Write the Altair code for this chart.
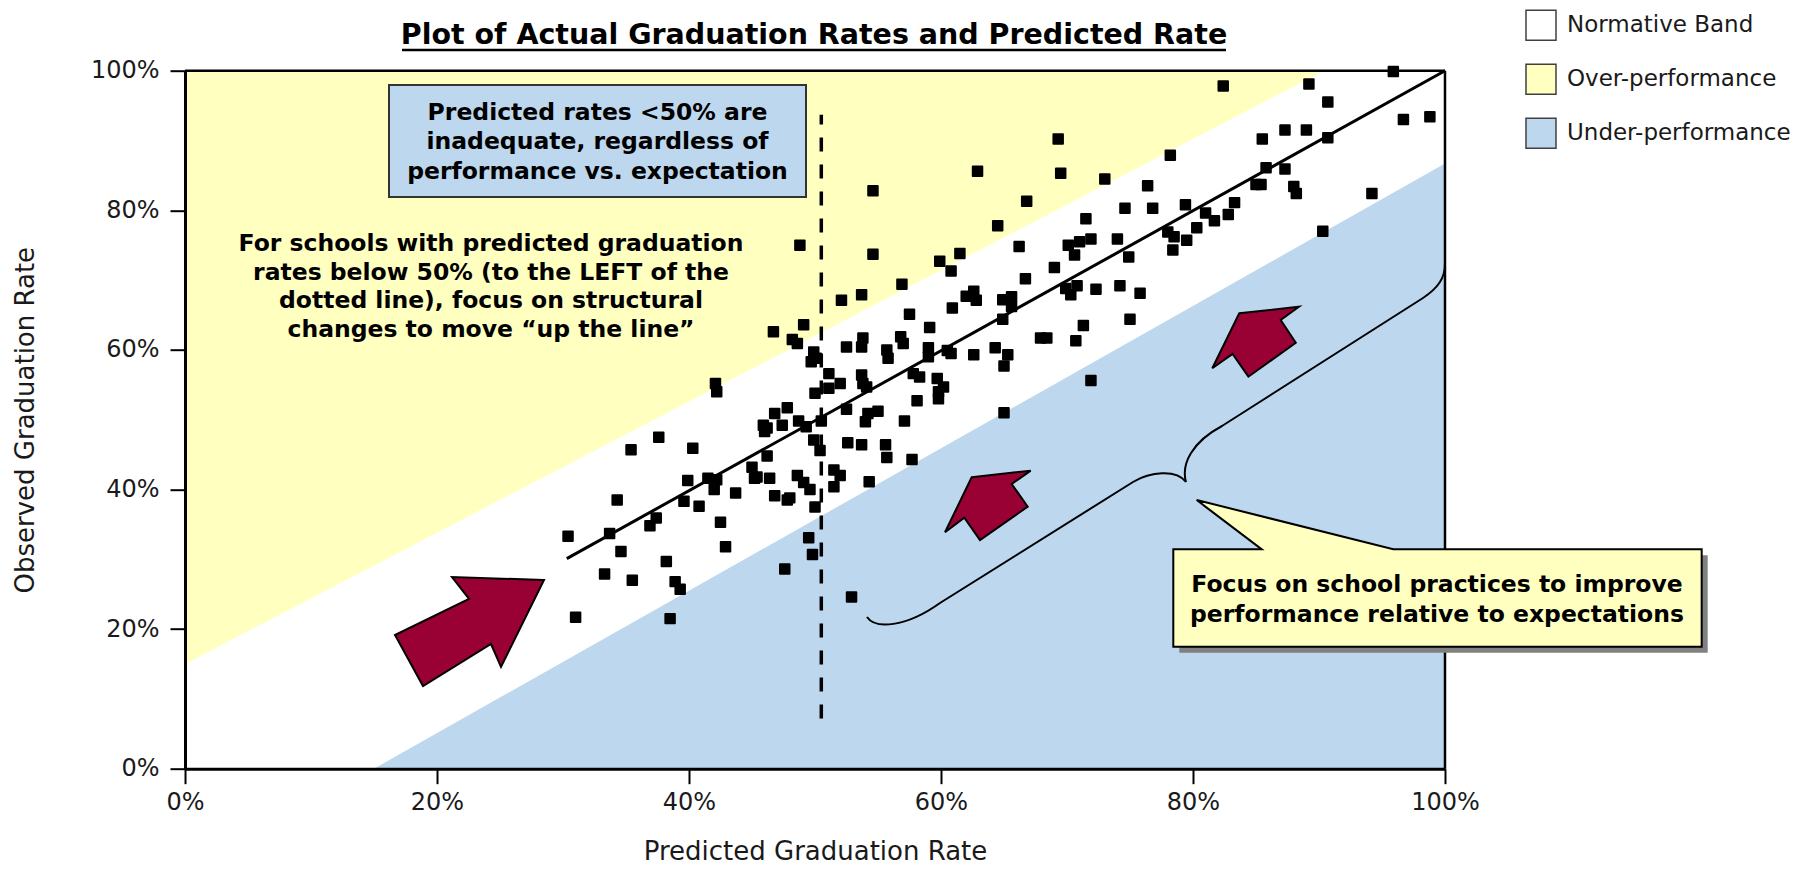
import altair as alt
import pandas as pd

# ---------------- data ----------------
predicted_rate = [
    30.4, 31.0, 33.3, 33.7, 34.3, 34.6, 35.4, 35.5, 36.9, 37.4, 37.6, 38.2, 38.5, 38.9, 39.3, 39.6,
    39.9, 40.3, 40.8, 41.5, 42.1, 42.2, 42.2, 42.0, 42.5, 42.9, 43.7,
    45.0, 45.2, 45.4, 46.2, 45.9, 46.0, 46.2, 46.7, 46.8, 47.8, 47.4, 46.4, 46.8, 47.8, 48.0, 47.6,
    48.7, 48.2, 48.6, 48.8, 49.1, 48.6, 49.1, 49.6, 49.3, 49.9, 50.4, 49.9, 50.1, 49.7, 50.0, 50.5,
    50.0, 49.5, 49.8,
    51.1, 51.1, 52.0, 52.1, 53.7, 51.5, 52.0, 51.5, 52.5, 53.8, 53.7, 52.5, 54.0, 54.2, 55.0, 52.6,
    53.7, 53.7, 53.8, 54.1, 54.3, 52.9, 54.6, 54.6,
    55.7, 55.8, 56.8, 57.0, 56.9, 57.5, 59.1, 59.0, 59.0, 57.8, 58.3, 58.1, 57.1, 55.6, 55.7, 57.7,
    59.7, 60.2, 59.8, 59.8, 60.5, 60.8,
    59.9, 60.8, 61.5, 60.9, 62.6, 64.3, 65.3, 65.0, 62.0, 62.6, 62.8, 62.9, 64.5, 66.2, 66.8, 64.9,
    64.9, 65.6, 65.6, 66.7, 69.0, 67.9, 68.4, 69.3, 69.5, 70.1, 71.0, 70.6, 71.9, 69.9, 70.8, 70.3,
    70.7, 71.3, 71.5, 71.9, 65.0, 72.3, 73.0, 74.0, 74.2, 74.9, 75.0, 74.6, 75.8, 76.4, 76.8,
    78.2, 79.4, 78.0, 78.5, 78.4, 79.5, 80.3, 81.0, 81.7, 82.8, 83.3, 82.4, 85.5, 85.8, 85.0, 85.4,
    87.3, 89.0, 87.3, 88.0, 88.2, 89.2, 90.7, 90.7, 90.3, 94.2, 95.9, 96.7, 98.8,
]
observed_rate = [
    33.3, 21.7, 27.9, 33.7, 38.5, 31.1, 45.7, 27.0, 34.8, 35.9, 47.5, 29.7, 21.5, 26.8, 25.7, 38.3,
    41.3, 45.9, 37.6, 41.6, 55.2, 54.0, 41.4, 40.0, 35.3, 31.8, 39.5,
    43.2, 41.6, 41.8, 44.8, 49.2, 48.3, 48.8, 62.6, 50.9, 51.7, 49.2, 41.6, 39.1, 38.5, 38.8, 28.6,
    49.8, 61.5, 60.9, 75.0, 63.6, 42.0, 41.0, 40.0, 49.0, 47.1, 45.6, 59.7, 58.8, 58.3, 53.8, 49.8,
    37.5, 33.1, 30.7,
    56.6, 54.5, 55.2, 67.1, 67.9, 42.8, 42.0, 40.4, 60.4, 61.7, 60.4, 51.5, 49.7, 50.9, 51.2, 46.7,
    46.4, 56.4, 55.2, 54.7, 41.1, 24.6, 73.7, 82.8,
    60.0, 58.8, 61.9, 60.9, 69.4, 65.1, 63.2, 60.3, 59.0, 56.6, 56.1, 52.7, 49.8, 46.4, 44.6, 44.3,
    55.9, 54.7, 54.0, 53.0, 59.9, 59.5,
    72.7, 71.3, 73.8, 66.0, 59.3, 60.3, 59.3, 57.7, 67.7, 68.4, 67.1, 85.6, 77.8, 74.8, 81.3, 64.4,
    67.2, 67.6, 66.2, 70.2, 71.8, 61.7, 61.7, 90.2, 85.3, 75.0, 75.5, 73.6, 75.9, 68.8, 69.2, 67.9,
    61.3, 63.5, 78.8, 55.6, 51.0, 68.7, 84.5, 75.9, 69.2, 73.3, 64.4, 80.3, 68.1, 83.5, 80.3,
    87.9, 80.8, 76.9, 76.2, 74.3, 75.7, 77.5, 79.6, 78.5, 79.4, 81.1, 97.8, 90.2, 86.1, 83.7, 83.7,
    91.5, 91.5, 85.9, 83.4, 82.4, 98.1, 95.5, 90.4, 77.0, 82.4, 99.9, 93.0, 93.4,
]

band_names = ["Normative Band", "Over-performance", "Under-performance"]
band_colors = ["#FFFFFF", "#FFFFC0", "#BDD7EE"]

normative_x = [0, 15, 90.4, 100]
normative_low = [0, 0, 76.9, 86.7]
normative_high = [15, 29.1, 100, 100]
over_x = [0, 90.4]
over_low = [15, 100]
over_high = [100, 100]
under_x = [15, 100]
under_low = [0, 0]
under_high = [0, 86.7]

fit_x = [30.3, 100]
fit_y = [30.1, 100]
cutoff_x = [50.5, 50.5]
cutoff_y = [7.2, 93.7]

axis_ticks = [0, 20, 40, 60, 80, 100]

title_text = "Plot of Actual Graduation Rates and Predicted Rate"
box_text = ["Predicted rates <50% are", "inadequate, regardless of", "performance vs. expectation"]
left_text = ["For schools with predicted graduation", "rates below 50% (to the LEFT of the",
             "dotted line), focus on structural", "changes to move \u201cup the line\u201d"]
callout_text = ["Focus on school practices to improve", "performance relative to expectations"]

# ---------------- layout ----------------
W, H = 1260, 698
PAD_L, PAD_T = 177, 62.7
OX, OY = 8 + PAD_L, 8 + PAD_T  # page position of plot origin


def dx(px):
    return (px - OX) / (W / 100)


def dy(py):
    return (OY + H - py) / (H / 100)


def shape(cmds):
    xs_ = [p[0] for _, pts in cmds for p in pts]
    ys_ = [p[1] for _, pts in cmds for p in pts]
    cx, cy = (min(xs_) + max(xs_)) / 2, (min(ys_) + max(ys_)) / 2
    r = max(max(xs_) - min(xs_), max(ys_) - min(ys_)) / 2 + 1
    parts = []
    for c, pts in cmds:
        parts.append(c + " ".join(f"{(px - cx) / r:.4f},{(py - cy) / r:.4f}" for px, py in pts))
    return {"x": dx(cx), "y": dy(cy), "path": " ".join(parts), "size": (2 * r) ** 2}


def poly(points):
    cmds = [("M", [points[0]])] + [("L", [p]) for p in points[1:]] + [("Z", [])]
    return shape(cmds)


FONT = "DejaVu Sans"
xs = alt.Scale(domain=[0, 100], nice=False, zero=False)
ys = alt.Scale(domain=[0, 100], nice=False, zero=False)

x_axis = alt.Axis(values=axis_ticks, labelExpr="datum.value + '%'", title="Predicted Graduation Rate",
                  titleX=W / 2, titleY=91, titleBaseline="alphabetic", titleAlign="center",
                  titleFont=FONT, titleFontSize=26, titleFontWeight="normal", titleColor="#1a1a1a",
                  labelFont=FONT, labelFontSize=24, labelColor="#1a1a1a", labelPadding=7,
                  labelFlush=False, labelOverlap=False,
                  tickSize=15, tickWidth=2, tickColor="black", domainColor="black", domainWidth=3,
                  grid=False, zindex=1)
y_axis = alt.Axis(values=axis_ticks, labelExpr="datum.value + '%'", title="Observed Graduation Rate",
                  titleX=-160, titleY=H / 2, titleAngle=270, titleBaseline="middle", titleAlign="center",
                  titleFont=FONT, titleFontSize=26, titleFontWeight="normal", titleColor="#1a1a1a",
                  labelFont=FONT, labelFontSize=24, labelColor="#1a1a1a", labelPadding=11,
                  labelFlush=False, labelOverlap=False,
                  tickSize=15, tickWidth=2, tickColor="black", domainColor="black", domainWidth=3,
                  grid=False, zindex=1)


def X(field):
    return alt.X(field, type="quantitative", scale=xs, axis=x_axis)


def Y(field):
    return alt.Y(field, type="quantitative", scale=ys, axis=y_axis, stack=None)


# ---------------- bands ----------------
rows = []
for name, bx, lo, hi in [(band_names[0], normative_x, normative_low, normative_high),
                         (band_names[1], over_x, over_low, over_high),
                         (band_names[2], under_x, under_low, under_high)]:
    for a, b, c in zip(bx, lo, hi):
        rows.append({"band": name, "x": a, "lo": b, "hi": c})
bands = alt.Chart(pd.DataFrame(rows)).mark_area(opacity=1, interpolate="linear").encode(
    x=X("x"),
    y=Y("hi"),
    y2="lo:Q",
    color=alt.Color("band:N", scale=alt.Scale(domain=band_names, range=band_colors),
                    legend=alt.Legend(title=None, orient="none", legendX=1340, legendY=-61.5,
                                      symbolType="square", symbolSize=900, symbolStrokeColor="#404040",
                                      symbolStrokeWidth=1.5, symbolOpacity=1, labelFont=FONT,
                                      labelFontSize=23, labelColor="#1a1a1a", labelOffset=10,
                                      labelLimit=0, rowPadding=18)),
)

border = alt.Chart(pd.DataFrame({"x": [0, 100], "x2": [100, 100], "y": [100, 0], "y2": [100, 100]})).mark_rule(
    color="black", strokeWidth=2.5).encode(x=X("x"), x2="x2:Q", y=Y("y"), y2="y2:Q")

fit = alt.Chart(pd.DataFrame({"x": fit_x, "y": fit_y})).mark_line(color="black", strokeWidth=3).encode(
    x=X("x"), y=Y("y"))

cutoff = alt.Chart(pd.DataFrame({"x": cutoff_x, "y": cutoff_y})).mark_line(
    color="black", strokeWidth=3.5, strokeDash=[14, 13]).encode(x=X("x"), y=Y("y"))

points = alt.Chart(pd.DataFrame({"p": predicted_rate, "o": observed_rate})).mark_square(
    size=90, filled=True, color="black", stroke="black", strokeWidth=2, strokeJoin="round", opacity=1).encode(
    x=X("p"), y=Y("o"))

# ---------------- annotations ----------------
box = alt.Chart(pd.DataFrame({"x": [dx(389)], "x2": [dx(806)], "y": [dy(85)], "y2": [dy(197)]})).mark_rect(
    fill="#BDD7EE", stroke="#333333", strokeWidth=2).encode(x=X("x"), x2="x2:Q", y=Y("y"), y2="y2:Q")


def text_layer(lines, cx, cy_first, size, line_h, weight="bold"):
    return alt.Chart(pd.DataFrame({"x": [cx], "y": [cy_first], "t": [lines]})).mark_text(
        font=FONT, fontWeight=weight, fontSize=size, lineHeight=line_h, align="center",
        baseline="middle", color="black").encode(x=X("x"), y=Y("y"), text="t")


box_txt = text_layer(box_text, dx(597.5), dy(113), 23.5, 29.5)
left_txt = text_layer(left_text, dx(491), dy(244), 23.5, 28.7)

arrow_shapes = [
    poly([(544, 580), (452, 577), (469, 599), (395, 635), (423, 686), (491, 644), (501, 667)]),
    poly([(971.7, 477.3), (1030.7, 470.7), (1011.7, 484), (1027.7, 506.7), (980, 540), (964.3, 517.7), (945, 532.3)]),
    poly([(1239.3, 313.3), (1299, 306.7), (1280.7, 320), (1295.8, 342.7), (1248.4, 376.7), (1232.6, 354), (1212.3, 368.3)]),
]
arrows = alt.Chart(pd.DataFrame(arrow_shapes)).mark_point(
    filled=True, fill="#990033", stroke="black", strokeWidth=2, strokeJoin="miter", opacity=1).encode(
    x=X("x"), y=Y("y"),
    shape=alt.Shape("path:N", scale=None, legend=None), size=alt.Size("size:Q", scale=None, legend=None))

brace_shape = shape([
    ("M", [(867, 617)]),
    ("C", [(875, 629), (905, 628), (940, 603)]),
    ("L", [(1133, 482)]),
    ("C", [(1150, 472), (1176, 469), (1186, 482)]),
    ("C", [(1181, 464), (1192, 442), (1222, 426)]),
    ("L", [(1423, 298)]),
    ("C", [(1438, 288), (1445, 278), (1445, 264)]),
    ("L", [(1445, 252)]),
])
brace = alt.Chart(pd.DataFrame([brace_shape])).mark_point(
    filled=False, stroke="black", strokeWidth=2, opacity=1).encode(
    x=X("x"), y=Y("y"),
    shape=alt.Shape("path:N", scale=None, legend=None), size=alt.Size("size:Q", scale=None, legend=None))

callout_shape = poly([(1173.3, 549.3), (1261.7, 549.3), (1196.7, 500), (1393.3, 549.3),
                      (1701.7, 549.3), (1701.7, 646.7), (1173.3, 646.7)])
callout_df = pd.DataFrame([callout_shape])
callout_shadow = alt.Chart(callout_df).mark_point(
    filled=True, fill="#808080", strokeWidth=0, opacity=1, xOffset=6, yOffset=6).encode(
    x=X("x"), y=Y("y"),
    shape=alt.Shape("path:N", scale=None, legend=None), size=alt.Size("size:Q", scale=None, legend=None))
callout = alt.Chart(callout_df).mark_point(
    filled=True, fill="#FFFFC0", stroke="black", strokeWidth=2, opacity=1).encode(
    x=X("x"), y=Y("y"),
    shape=alt.Shape("path:N", scale=None, legend=None), size=alt.Size("size:Q", scale=None, legend=None))
callout_txt = text_layer(callout_text, dx(1437), dy(585), 23.5, 30)

title = text_layer([title_text], dx(814), dy(35), 28.5, 30)
underline = alt.Chart(pd.DataFrame({"x": [dx(402)], "x2": [dx(1226)], "y": [dy(50)]})).mark_rule(
    color="black", strokeWidth=2.5).encode(x=X("x"), x2="x2:Q", y=Y("y"))

chart = alt.layer(
    bands, border, fit, cutoff, points, box, box_txt, left_txt, arrows, brace,
    callout_shadow, callout, callout_txt, title, underline,
).properties(
    width=W, height=H,
    autosize=alt.AutoSizeParams(type="none"),
    padding={"left": PAD_L, "top": PAD_T, "right": 363, "bottom": 100},
).configure_view(stroke=None).configure(font=FONT)

chart.save("out.html", embed_options={"renderer": "svg", "actions": False})
